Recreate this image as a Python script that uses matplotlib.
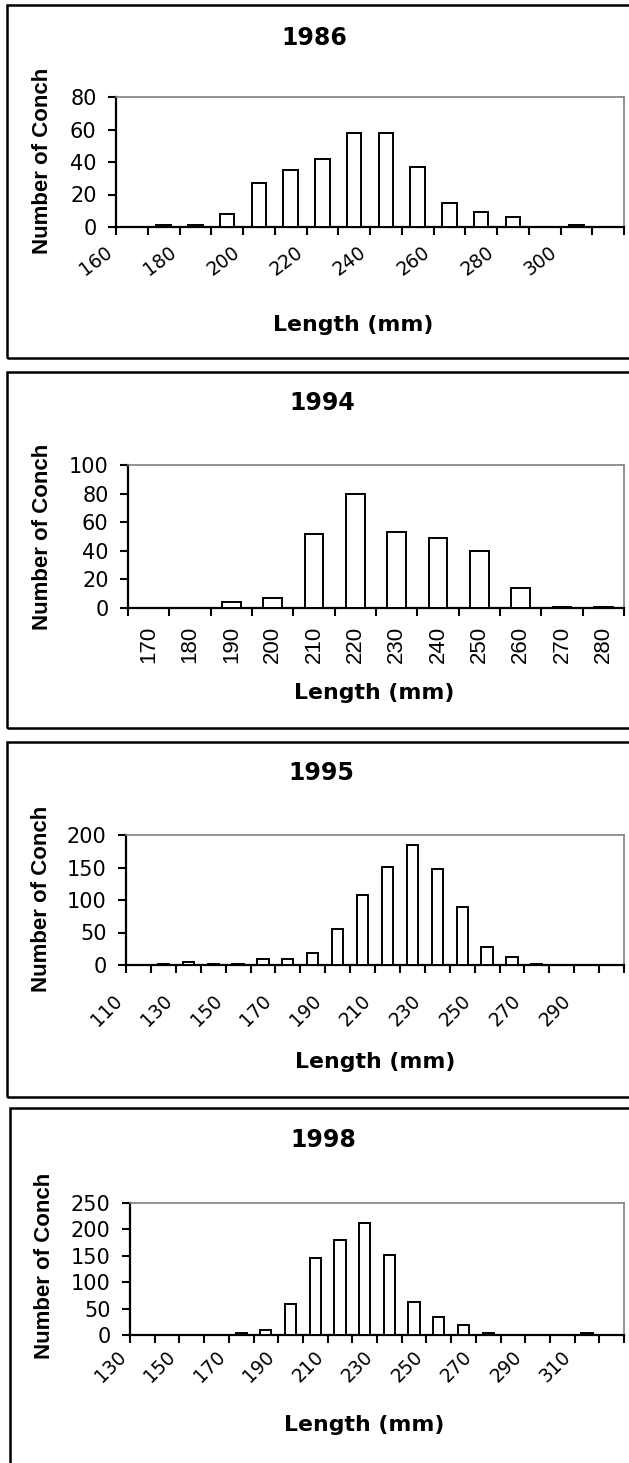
import matplotlib
matplotlib.use("Agg")
import matplotlib.pyplot as plt
from matplotlib.patches import Rectangle
import numpy as np

# ---------------- data ----------------
bins_1986 = [160, 170, 180, 190, 200, 210, 220, 230, 240, 250, 260, 270, 280, 290, 300, 310]
counts_1986 = [0, 1, 1, 8, 27, 35, 42, 58, 58, 37, 15, 9, 6, 0, 1, 0]

bins_1994 = [170, 180, 190, 200, 210, 220, 230, 240, 250, 260, 270, 280]
counts_1994 = [0, 0, 4, 7, 52, 80, 53, 49, 40, 14, 1, 1]

bins_1995 = [110, 120, 130, 140, 150, 160, 170, 180, 190, 200,
             210, 220, 230, 240, 250, 260, 270, 280, 290, 300]
counts_1995 = [0, 2, 5, 2, 2, 9, 9, 18, 55, 108,
               151, 185, 148, 90, 27, 12, 2, 0, 0, 0]

bins_1998 = [130, 140, 150, 160, 170, 180, 190, 200, 210, 220,
             230, 240, 250, 260, 270, 280, 290, 300, 310, 320]
counts_1998 = [0, 0, 0, 0, 3, 9, 58, 145, 179, 213,
               152, 62, 35, 19, 3, 0, 0, 0, 3, 0]

years = ["1986", "1994", "1995", "1998"]
yticks_1986 = [0, 20, 40, 60, 80]
yticks_1994 = [0, 20, 40, 60, 80, 100]
yticks_1995 = [0, 50, 100, 150, 200]
yticks_1998 = [0, 50, 100, 150, 200, 250]

W, H = 629, 1463
fig = plt.figure(figsize=(W / 100, H / 100), dpi=100)
fig.patch.set_facecolor("white")

HFONT = "DejaVu Sans"
VFONT = "Liberation Sans"


def fx(x):
    return x / W


def fy(y):
    return 1 - y / H


panels = [
    # bins, counts, yticks, year, axes(l,r,t,b), frame(l,t,b), title(x,y), ylab(x,y), xlab(x,y),
    # label style, label rotation, label pad (pt)
    (bins_1986, counts_1986, yticks_1986, years[0], (116, 624, 97, 227), (7, 5, 358),
     (314, 38), (43, 161), (353, 325), "edge", 37, 5.5),
    (bins_1994, counts_1994, yticks_1994, years[1], (128, 624, 465, 608), (7, 372, 728),
     (322, 403), (43, 537), (374, 693), "center", 90, 13),
    (bins_1995, counts_1995, yticks_1995, years[2], (126, 624, 835, 965), (7, 742, 1097),
     (321, 773), (42, 899), (375, 1062), "edge", 45, 13),
    (bins_1998, counts_1998, yticks_1998, years[3], (130, 624, 1203, 1335), (10, 1108, 1500),
     (323, 1140), (45, 1266), (364, 1425), "edge", 45, 3),
]

for (bins, counts, yt, year, (l, r, t, b), (fl, ft, fb), tpos, ypos, xpos,
     style, rot, lpad) in panels:
    # outer chart-area frame (cut off at the right like the reference)
    fig.add_artist(Rectangle((fx(fl), fy(fb)), fx(700 - fl), (fb - ft) / H,
                             transform=fig.transFigure, fill=False,
                             edgecolor="black", linewidth=1.8, clip_on=False))

    ax = fig.add_axes([fx(l), fy(b), fx(r - l), (b - t) / H])
    n = len(bins)
    x = np.arange(n) + 0.5
    c = np.array(counts, dtype=float)
    m = c > 0
    ax.bar(x[m], c[m], width=0.45, color="white", edgecolor="black",
           linewidth=1.4, zorder=3)
    ax.set_xlim(0, n)
    ax.set_ylim(yt[0], yt[-1])
    ax.set_yticks(yt)
    ax.set_yticklabels([str(v) for v in yt], fontsize=15, family=HFONT)

    for s in ("top", "right"):
        ax.spines[s].set_color("#808080")
        ax.spines[s].set_linewidth(1.2)
    for s in ("left", "bottom"):
        ax.spines[s].set_color("black")
        ax.spines[s].set_linewidth(1.6)
    ax.tick_params(axis="both", direction="out", length=6, width=1.5, color="black")
    ax.tick_params(axis="y", pad=8)

    if style == "center":
        ax.set_xticks(np.arange(n + 1))
        ax.set_xticklabels([""] * (n + 1))
        ax.set_xticks(x, minor=True)
        ax.set_xticklabels([str(v) for v in bins], minor=True, rotation=rot,
                           fontsize=16, family=VFONT, va="top", ha="center")
        ax.tick_params(axis="x", which="minor", length=0, pad=lpad)
    else:
        ax.set_xticks(np.arange(n + 1))
        labs = [str(bins[i]) if (i < n and i % 2 == 0) else "" for i in range(n + 1)]
        ax.set_xticklabels(labs, rotation=rot, fontsize=13.5, family=HFONT,
                           ha="right", va="top", rotation_mode="default")
        ax.tick_params(axis="x", pad=lpad)

    fig.text(fx(tpos[0]), fy(tpos[1]), year, fontsize=17, fontweight="bold",
             family=HFONT, ha="center", va="center")
    fig.text(fx(ypos[0]), fy(ypos[1]), "Number of Conch", fontsize=16,
             fontweight="bold", family=VFONT, rotation=90, ha="center", va="center")
    fig.text(fx(xpos[0]), fy(xpos[1]), "Length (mm)", fontsize=15.8,
             fontweight="bold", family=HFONT, ha="center", va="center")

fig.savefig("out.png", dpi=100, facecolor="white")
